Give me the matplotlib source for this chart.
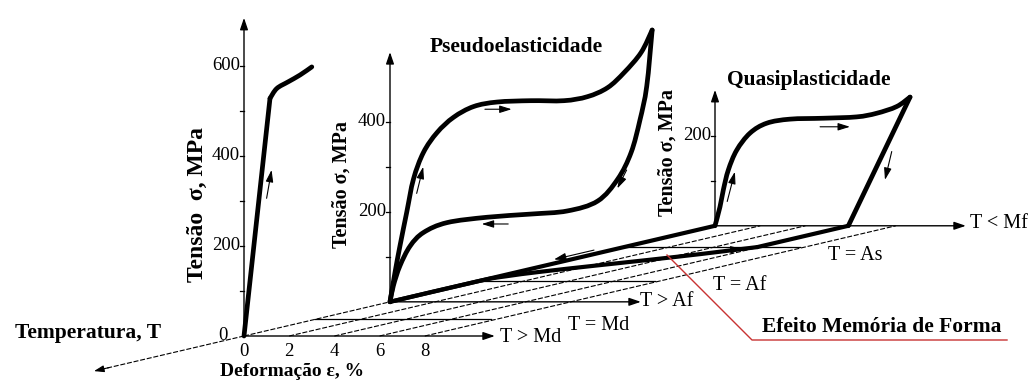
import numpy as np
import matplotlib
matplotlib.use("Agg")
import matplotlib.pyplot as plt
from matplotlib.transforms import Affine2D, offset_copy
from matplotlib.path import Path
from matplotlib.patches import PathPatch

plt.rcParams['font.family'] = ['Liberation Serif', 'DejaVu Serif']

# ---------------- data ----------------
# Strain axis ticks (%) and stress ticks (MPa) per panel
strain_ticks = [0, 2, 4, 6, 8]
md_stress_major = [0, 200, 400, 600]
md_stress_minor = [100, 300, 500]
pe_stress_major = [200, 400]
pe_stress_minor = [100, 300]
qp_stress_major = [200]
qp_stress_minor = [100]

# T > Md : ordinary elastic-plastic loading
md_strain = [0, 1.15, 1.45, 1.96, 2.48, 3.0]
md_stress = [0, 528, 550, 565, 580, 598]

# T > Af : pseudoelastic loop
pe_load_strain = [0, 0.22, 0.44, 0.74, 1.04, 1.48, 2.08, 2.81, 3.70, 4.74,
                  6.22, 7.70, 8.74, 9.63, 10.37, 11.11, 11.60]
pe_load_stress = [0, 65, 124, 199, 273, 332, 376, 410, 434, 444,
                  447, 447, 456, 476, 510, 554, 604]
pe_unload_strain = [11.60, 11.36, 11.06, 10.67, 10.08, 9.19, 7.85, 6.22,
                    4.30, 2.52, 1.48, 0.89, 0.44, 0.15, 0]
pe_unload_stress = [604, 479, 404, 332, 273, 224, 202, 195,
                    188, 176, 154, 124, 80, 36, 0]

# T < Mf : quasiplastic loading / unloading
qp_load_strain = [0, 0.22, 0.37, 0.59, 0.96, 1.55, 2.29, 3.32, 4.79, 6.27,
                  7.15, 8.04, 8.63]
qp_load_stress = [0, 42, 80, 124, 168, 206, 228, 237, 239, 242,
                  250, 265, 286]
qp_unload_strain = [8.63, 5.9]
qp_unload_stress = [286, 0]

# Shape memory path on the strain-temperature floor
# (position along the temperature axis, strain %)
sme_cool_t = [146, 471]
sme_cool_strain = [0, 0]
sme_hold_t = [471, 380]
sme_hold_strain = [5.9, 5.9]
sme_recover_t = [380, 370, 350, 325, 300, 275, 255, 235, 146]
sme_recover_strain = [5.9, 5.5, 4.7, 3.5, 2.2, 1.0, 0.3, 0, 0]

# Temperature planes along the oblique temperature axis
plane_labels = ['T > Md', 'T = Md', 'T > Af', 'T = Af', 'T = As', 'T < Mf']
plane_t = [0, 71, 146, 235, 380, 471]

# ---------------- projection ----------------
S_EPS = 22.6    # px per % strain
S_SIG = 0.45    # px per MPa
X0, Y0 = 244, 336
K = 0.234       # rise of the temperature axis per px

fig = plt.figure(figsize=(10.32, 3.81), dpi=100)
ax = fig.add_axes([0, 0, 1, 1])
ax.set_xlim(0, 1032)
ax.set_ylim(381, 0)
ax.axis('off')


def wall(t):
    """(strain, stress) plane standing at temperature position t."""
    return Affine2D().scale(S_EPS, -S_SIG).translate(X0 + t, Y0 - K * t) + ax.transData


floor = Affine2D.from_values(S_EPS, 0, 1, -K, X0, Y0) + ax.transData
T = dict(zip(plane_labels, plane_t))

INK = 'black'
AX_LW = 1.0
CURVE_LW = 3.4


def arrow(p0, p1, trans, lw=AX_LW, scale=14, hl=0.5, hw=0.17):
    ax.annotate('', xy=p1, xytext=p0, xycoords=trans, textcoords=trans,
                arrowprops=dict(arrowstyle=f'-|>,head_length={hl},head_width={hw}',
                                lw=lw, color=INK, shrinkA=0, shrinkB=0,
                                mutation_scale=scale))


def smooth(xs, ys, trans, lw=CURVE_LW):
    """Draw a smooth Catmull-Rom curve through the given points."""
    p = np.column_stack([xs, ys]).astype(float)
    ext = np.vstack([p[0], p, p[-1]])
    verts = [p[0]]
    codes = [Path.MOVETO]
    for i in range(len(p) - 1):
        a, b, c, d = ext[i], ext[i + 1], ext[i + 2], ext[i + 3]
        verts += [b + (c - a) / 6, c - (d - b) / 6, c]
        codes += [Path.CURVE4] * 3
    ax.add_patch(PathPatch(Path(verts, codes), transform=trans, fill=False,
                           edgecolor=INK, lw=lw, capstyle='round', joinstyle='round'))


# dashed strain guides along the temperature axis
dash = (0, (4.5, 1.6))
for e in strain_ticks:
    ax.plot([e, e], [0, T['T < Mf']], transform=floor, color=INK, lw=0.8, ls=dash)
# temperature axis coming forward
ax.plot([0, 0], [0, -140], transform=floor, color=INK, lw=0.8, ls=dash)
arrow((0, -135), (0, -150), floor, lw=0.8, scale=12)

# plane boundary lines
for name in ['T = Md', 'T = Af', 'T = As']:
    ax.plot([0, 7.8], [T[name], T[name]], transform=floor, color=INK, lw=0.9)

# strain axes of the three walls
for name in ['T > Md', 'T > Af', 'T < Mf']:
    arrow((0, T[name]), (11.1, T[name]), floor)

# stress axes with ticks
walls = [
    ('T > Md', 707, md_stress_major, md_stress_minor),
    ('T > Af', 555, pe_stress_major, pe_stress_minor),
    ('T < Mf', 302, qp_stress_major, qp_stress_minor),
]
for name, top, major, minor in walls:
    tr = wall(T[name])
    arrow((0, 0), (0, top), tr)
    for s in major + minor:
        if s:
            ax.plot([0, -0.17], [s, s], transform=tr, color=INK, lw=0.9)
    for s in major:
        dx = -16 if s == 0 else -4
        lab_tr = offset_copy(tr, fig=fig, x=dx, y=0, units='dots')
        ax.text(0, s, str(s), transform=lab_tr, ha='right', va='center',
                fontsize=13.5, color=INK)

# strain tick labels on the front wall
xt_tr = offset_copy(wall(0), fig=fig, x=0, y=-15, units='dots')
for e in strain_ticks:
    ax.text(e, 0, str(e), transform=xt_tr, ha='center', va='center',
            fontsize=13.5, color=INK)

# ---- curves ----
ax.plot(md_strain[:2], md_stress[:2], transform=wall(T['T > Md']), color=INK,
        lw=CURVE_LW, solid_capstyle='round')
smooth(md_strain[1:], md_stress[1:], wall(T['T > Md']))
smooth(pe_load_strain, pe_load_stress, wall(T['T > Af']))
smooth(pe_unload_strain, pe_unload_stress, wall(T['T > Af']))
smooth(qp_load_strain, qp_load_stress, wall(T['T < Mf']))
ax.plot(qp_unload_strain, qp_unload_stress, transform=wall(T['T < Mf']), color=INK,
        lw=CURVE_LW, solid_capstyle='round')
ax.plot(sme_cool_strain, sme_cool_t, transform=floor, color=INK, lw=3.0,
        solid_capstyle='round')
ax.plot(sme_hold_strain, sme_hold_t, transform=floor, color=INK, lw=3.0,
        solid_capstyle='round')
smooth(sme_recover_strain, sme_recover_t, floor, lw=3.0)

# direction arrows along the curves
small = dict(lw=0.8, scale=9, hl=0.8, hw=0.25)
arrow((1.0, 306), (1.22, 369), wall(T['T > Md']), **small)
tr = wall(T['T > Af'])
arrow((1.18, 241), (1.47, 300), tr, **small)
arrow((4.2, 428), (5.38, 428), tr, **small)
arrow((10.47, 293), (10.06, 252), tr, **small)
arrow((5.23, 173), (4.06, 173), tr, **small)
tr = wall(T['T < Mf'])
arrow((0.54, 54), (0.88, 120), tr, **small)
arrow((4.65, 220), (5.97, 220), tr, **small)
arrow((7.82, 165), (7.52, 102), tr, **small)
arrow_up = offset_copy(floor, fig=fig, x=0, y=4, units='dots')
arrow((0, 350), (0, 310), arrow_up, **small)
arrow((5.2, 368), (5.6, 372), floor, **small)

# ---- text ----
bold = dict(fontweight='bold', color=INK)
ax.text(516, 47, 'Pseudoelasticidade', ha='center', va='center', fontsize=15.5, **bold)
ax.text(809, 80, 'Quasiplasticidade', ha='center', va='center', fontsize=15.5, **bold)
ax.text(197, 205, 'Tensão  σ, MPa', rotation=90, ha='center', va='center',
        fontsize=17, **bold)
ax.text(342, 184, 'Tensão σ, MPa', rotation=90, ha='center', va='center',
        fontsize=14.5, **bold)
ax.text(668, 152, 'Tensão σ, MPa', rotation=90, ha='center', va='center',
        fontsize=14.5, **bold)
ax.text(15, 333, 'Temperatura, T', ha='left', va='center', fontsize=15.5, **bold)
ax.text(292, 372, 'Deformação ε, %', ha='center', va='center', fontsize=14, **bold)

plane_text_pos = {'T > Md': (500, 337), 'T = Md': (568, 325), 'T > Af': (640, 302),
                  'T = Af': (713, 285), 'T = As': (828, 255), 'T < Mf': (970, 223)}
for name, (px, py) in plane_text_pos.items():
    ax.text(px, py, name, ha='left', va='center', fontsize=14.5, color=INK)

red = '#c83232'
ax.plot([667, 752, 1007], [255, 340, 340], color=red, lw=1.0)
ax.text(762, 327, 'Efeito Memória de Forma', ha='left', va='center',
        fontsize=15.5, **bold)

fig.savefig('out.png', dpi=100)
